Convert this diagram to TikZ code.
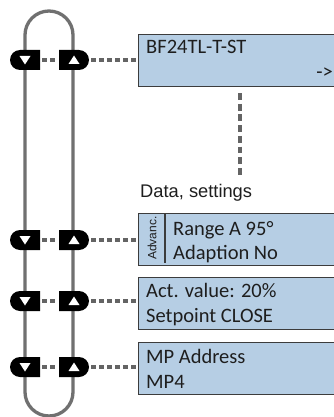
\documentclass[tikz,border=0pt]{standalone}
\usepackage{fontspec}
\setmainfont{Carlito}
\newfontfamily\arialf{Liberation Sans}
\usetikzlibrary{shapes.misc}
\definecolor{boxfill}{RGB}{182,206,228}
\definecolor{boxline}{RGB}{60,60,60}
\definecolor{loopgray}{RGB}{112,112,112}
\definecolor{dotgray}{RGB}{100,100,100}
\definecolor{txt}{RGB}{30,30,30}
\tikzset{
  menubox/.style={draw=boxline, line width=1.1pt, fill=boxfill, minimum width=230pt, minimum height=52pt, anchor=north west, inner sep=0pt},
  btnL/.style={rounded rectangle, rounded rectangle east arc=none, fill=black, minimum width=30pt, minimum height=20pt, inner sep=0pt},
  btnR/.style={rounded rectangle, rounded rectangle west arc=none, fill=black, minimum width=30pt, minimum height=20pt, inner sep=0pt},
  loopline/.style={draw=loopgray, line width=3.3pt},
  dotline/.style={draw=dotgray, line width=3.4pt, dash pattern=on 5pt off 3pt},
  vdotline/.style={draw=dotgray, line width=3.4pt, dash pattern=on 6.8pt off 3.9pt},
  lbl/.style={anchor=base west, inner sep=0pt, text=txt, font=\fontsize{20.5}{24}\selectfont},
}
\begin{document}
\begin{tikzpicture}[x=1pt,y=-1pt]
\clip (0,0) rectangle (334,417);
\fill[white] (0,0) rectangle (334,417);
% loop
\draw[loopline] (25,392) -- (25,35) arc (180:360:24) -- (73,392) arc (0:180:24);
% boxes
\node[menubox] (b1) at (138,34) {};
\node[menubox] (b2) at (138,213) {};
\node[menubox] (b3) at (138,277) {};
\node[menubox] (b4) at (138,342) {};
\draw[boxline, line width=1.1pt] (165,213) -- (165,263);
% texts
\node[lbl] (t1) at (146,54) {BF24TL-T-ST};
\node[lbl, anchor=base east] (t1b) at (333,79) {->};
\node[anchor=base west, inner sep=0pt, text=txt, font=\arialf\fontsize{18.3}{22}\selectfont] (ds) at (140,197) {Data, settings};
\node[rotate=90, inner sep=0pt, text=txt, font=\arialf\fontsize{12}{14}\selectfont] (adv) at (152,238) {Advanc.};
\node[lbl] (t2a) at (173,235) {Range A 95°};
\node[lbl] (t2b) at (173,259) {Adaption No};
\node[lbl] (t3a) at (146,297) {Act. value: 20\%};
\node[lbl] (t3b) at (146,322) {Setpoint CLOSE};
\node[lbl] (t4a) at (146,363) {MP Address};
\node[lbl] (t4b) at (146,388) {MP4};
% vertical dotted line
\coordinate (vEnd) at (240,176);
\draw[vdotline] ([yshift=-6pt]b1.south -| vEnd) -- (vEnd);
% buttons
\foreach \n/\y/\b in {1/60/b1,2/240/b2,3/301/b3,4/367/b4}{
  \node[btnL] (dn\n) at (25,\y) {};
  \node[btnR] (up\n) at (74,\y) {};
  \fill[white] ([xshift=-5.5pt,yshift=4pt]dn\n.center) -- ([xshift=5.5pt,yshift=4pt]dn\n.center) -- ([yshift=-4.5pt]dn\n.center) -- cycle;
  \fill[white] ([xshift=-5.5pt,yshift=-4pt]up\n.center) -- ([xshift=5.5pt,yshift=-4pt]up\n.center) -- ([yshift=4.5pt]up\n.center) -- cycle;
  \draw[dotline] ([xshift=2pt]dn\n.east) -- ([xshift=-1pt]up\n.west);
  \draw[dotline] ([xshift=2pt]up\n.east) -- (up\n.east -| \b.west);
}
\end{tikzpicture}
\end{document}
